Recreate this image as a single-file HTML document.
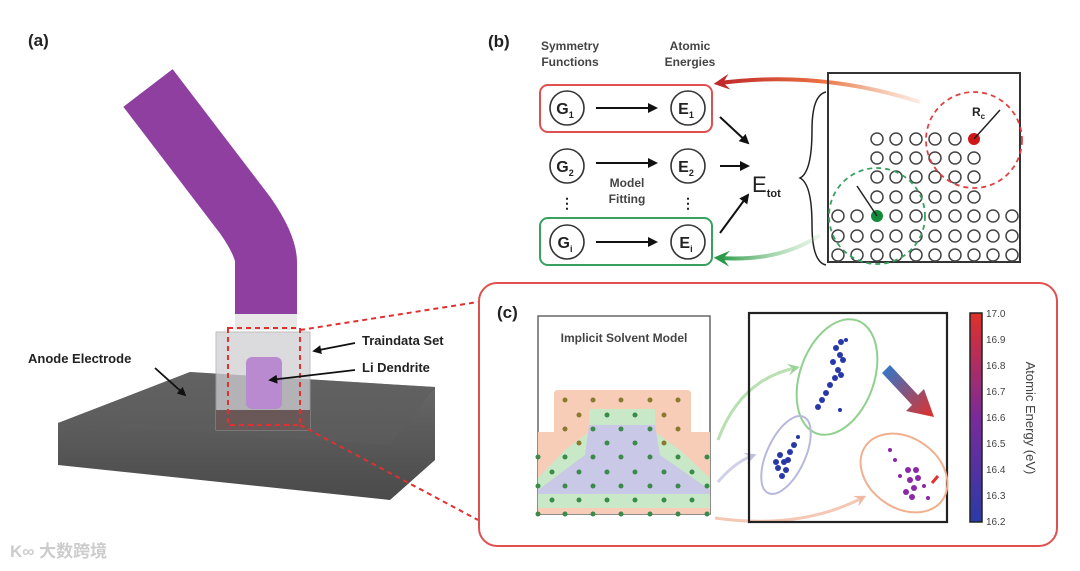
<!DOCTYPE html>
<html><head><meta charset="utf-8"><style>
html,body{margin:0;padding:0;background:#fff}
svg{display:block}
text{font-family:"Liberation Sans",Arial,sans-serif;font-weight:bold;fill:#222}
</style></head><body>
<svg width="1080" height="571" viewBox="0 0 1080 571" xmlns="http://www.w3.org/2000/svg">
<defs>
<marker id="ah" viewBox="0 0 10 10" refX="8" refY="5" markerWidth="5" markerHeight="5" orient="auto"><path d="M0,0L10,5L0,10z" fill="#111"/></marker>
<marker id="ahr" viewBox="0 0 10 10" refX="6" refY="5" markerWidth="4" markerHeight="4" orient="auto"><path d="M0,0L10,5L0,10L4,5z" fill="#c0282a"/></marker>
<marker id="ahg" viewBox="0 0 10 10" refX="6" refY="5" markerWidth="4" markerHeight="4" orient="auto"><path d="M0,0L10,5L0,10L4,5z" fill="#2a9a4a"/></marker>
<marker id="ahlg" viewBox="0 0 10 10" refX="6" refY="5" markerWidth="4" markerHeight="4" orient="auto"><path d="M0,0L10,5L0,10L4,5z" fill="#9ad29a"/></marker>
<marker id="ahlo" viewBox="0 0 10 10" refX="6" refY="5" markerWidth="4" markerHeight="4" orient="auto"><path d="M0,0L10,5L0,10L4,5z" fill="#f0b8a0"/></marker>
<marker id="ahlb" viewBox="0 0 10 10" refX="6" refY="5" markerWidth="4" markerHeight="4" orient="auto"><path d="M0,0L10,5L0,10L4,5z" fill="#c0c0e0"/></marker>
<linearGradient id="slab" x1="0" y1="0" x2="0" y2="1"><stop offset="0" stop-color="#6a6a6a"/><stop offset="1" stop-color="#4a4a4a"/></linearGradient>
<linearGradient id="cb" x1="0" y1="1" x2="0" y2="0"><stop offset="0" stop-color="#2a3aa8"/><stop offset="0.5" stop-color="#7a2a9a"/><stop offset="1" stop-color="#e0302a"/></linearGradient>
<linearGradient id="bigar" x1="0" y1="0" x2="1" y2="1"><stop offset="0" stop-color="#2a7ad0"/><stop offset="1" stop-color="#e0302a"/></linearGradient>
<linearGradient id="redc" x1="1" y1="0" x2="0" y2="0"><stop offset="0" stop-color="#f0a070" stop-opacity="0.2"/><stop offset="0.5" stop-color="#e87040"/><stop offset="1" stop-color="#c0282a"/></linearGradient>
<linearGradient id="grc" x1="1" y1="0" x2="0" y2="0"><stop offset="0" stop-color="#9ad29a" stop-opacity="0.2"/><stop offset="1" stop-color="#2a9a4a"/></linearGradient>
</defs>

<!-- Panel a -->
<text x="28" y="46" font-size="17">(a)</text>
<polygon points="58,423 190,372 435,387 435,460 390,500 58,465" fill="url(#slab)"/>
<polygon points="58,423 190,372 435,387 390,445 " fill="#5e5e5e" opacity="0.6"/>
<path d="M148,88 L245,215 Q266,245 266,262 L266,314" stroke="#8e3fa0" stroke-width="62" fill="none"/>
<rect x="235" y="314" width="62" height="16" fill="#ddd" opacity="0.7"/>
<rect x="216" y="332" width="94" height="98" fill="#cfcfd4" opacity="0.75" stroke="#aaa"/>
<rect x="216" y="410" width="94" height="20" fill="#6a5858"/>
<rect x="246" y="357" width="36" height="52" rx="6" fill="#b98ad0"/>
<rect x="228" y="328" width="72" height="97" fill="none" stroke="#e03030" stroke-width="2" stroke-dasharray="5,4"/>
<line x1="300" y1="330" x2="478" y2="302" stroke="#e03030" stroke-width="2" stroke-dasharray="5,4"/>
<line x1="300" y1="425" x2="478" y2="520" stroke="#e03030" stroke-width="2" stroke-dasharray="5,4"/>
<text x="28" y="363" font-size="13">Anode Electrode</text>
<line x1="155" y1="368" x2="185" y2="395" stroke="#111" stroke-width="1.8" marker-end="url(#ah)"/>
<text x="362" y="345" font-size="13">Traindata Set</text>
<line x1="355" y1="343" x2="314" y2="351" stroke="#111" stroke-width="1.8" marker-end="url(#ah)"/>
<text x="362" y="372" font-size="13">Li Dendrite</text>
<line x1="355" y1="370" x2="270" y2="380" stroke="#111" stroke-width="1.8" marker-end="url(#ah)"/>
<text x="10" y="557" font-size="17" style="fill:#ccc;font-family:'Liberation Sans','Noto Sans CJK SC',sans-serif">K∞ 大数跨境</text>

<!-- Panel b -->
<text x="488" y="47" font-size="17">(b)</text>
<text x="570" y="50" font-size="12" text-anchor="middle" style="fill:#444">Symmetry</text>
<text x="570" y="66" font-size="12" text-anchor="middle" style="fill:#444">Functions</text>
<text x="690" y="50" font-size="12" text-anchor="middle" style="fill:#444">Atomic</text>
<text x="690" y="66" font-size="12" text-anchor="middle" style="fill:#444">Energies</text>
<rect x="540" y="85" width="172" height="47" rx="8" fill="none" stroke="#e05050" stroke-width="2"/>
<rect x="540" y="218" width="172" height="47" rx="8" fill="none" stroke="#3aa060" stroke-width="2"/>
<g fill="none" stroke="#333" stroke-width="1.6">
<circle cx="567" cy="108" r="17"/><circle cx="688" cy="108" r="17"/>
<circle cx="567" cy="166" r="17"/><circle cx="688" cy="166" r="17"/>
<circle cx="567" cy="242" r="17"/><circle cx="688" cy="242" r="17"/>
</g>
<g font-size="16" text-anchor="middle">
<text x="565" y="114">G<tspan font-size="9" dy="4">1</tspan></text>
<text x="686" y="114">E<tspan font-size="9" dy="4">1</tspan></text>
<text x="565" y="172">G<tspan font-size="9" dy="4">2</tspan></text>
<text x="686" y="172">E<tspan font-size="9" dy="4">2</tspan></text>
<text x="565" y="248">G<tspan font-size="9" dy="4">i</tspan></text>
<text x="686" y="248">E<tspan font-size="9" dy="4">i</tspan></text>
</g>
<g stroke="#111" stroke-width="2" marker-end="url(#ah)">
<line x1="596" y1="108" x2="656" y2="108"/><line x1="596" y1="163" x2="656" y2="163"/><line x1="596" y1="242" x2="656" y2="242"/>
<line x1="720" y1="117" x2="748" y2="143"/><line x1="720" y1="166" x2="748" y2="166"/><line x1="720" y1="233" x2="748" y2="195"/>
</g>
<text x="567" y="208" font-size="14" text-anchor="middle">⋮</text>
<text x="688" y="208" font-size="14" text-anchor="middle">⋮</text>
<text x="627" y="187" font-size="12" text-anchor="middle" style="fill:#444">Model</text>
<text x="627" y="203" font-size="12" text-anchor="middle" style="fill:#444">Fitting</text>
<text x="752" y="192" font-size="22" style="font-weight:normal">E<tspan font-size="11" dy="5" font-weight="bold">tot</tspan></text>
<path d="M826,92 Q812,95 812,130 Q812,172 800,178 Q812,184 812,225 Q812,262 826,265" fill="none" stroke="#222" stroke-width="1.5"/>
<path d="M920,102 Q820,70 720,83" fill="none" stroke="url(#redc)" stroke-width="4" marker-end="url(#ahr)"/>
<path d="M820,235 Q780,262 720,258" fill="none" stroke="url(#grc)" stroke-width="4" marker-end="url(#ahg)"/>
<rect x="828" y="73" width="192" height="189" fill="none" stroke="#333" stroke-width="2"/>
<g fill="none" stroke="#444" stroke-width="1.5">
<circle cx="877" cy="139" r="6"/><circle cx="896" cy="139" r="6"/><circle cx="916" cy="139" r="6"/><circle cx="935" cy="139" r="6"/><circle cx="955" cy="139" r="6"/>
<circle cx="877" cy="158" r="6"/><circle cx="896" cy="158" r="6"/><circle cx="916" cy="158" r="6"/><circle cx="935" cy="158" r="6"/><circle cx="955" cy="158" r="6"/><circle cx="974" cy="158" r="6"/>
<circle cx="877" cy="177" r="6"/><circle cx="896" cy="177" r="6"/><circle cx="916" cy="177" r="6"/><circle cx="935" cy="177" r="6"/><circle cx="955" cy="177" r="6"/><circle cx="974" cy="177" r="6"/>
<circle cx="877" cy="197" r="6"/><circle cx="896" cy="197" r="6"/><circle cx="916" cy="197" r="6"/><circle cx="935" cy="197" r="6"/><circle cx="955" cy="197" r="6"/><circle cx="974" cy="197" r="6"/>
</g>
<g fill="none" stroke="#444" stroke-width="1.5" id="rows">
<circle cx="838" cy="216" r="6"/><circle cx="857" cy="216" r="6"/><circle cx="896" cy="216" r="6"/><circle cx="916" cy="216" r="6"/><circle cx="935" cy="216" r="6"/><circle cx="955" cy="216" r="6"/><circle cx="974" cy="216" r="6"/><circle cx="993" cy="216" r="6"/><circle cx="1012" cy="216" r="6"/>
<circle cx="838" cy="236" r="6"/><circle cx="857" cy="236" r="6"/><circle cx="877" cy="236" r="6"/><circle cx="896" cy="236" r="6"/><circle cx="916" cy="236" r="6"/><circle cx="935" cy="236" r="6"/><circle cx="955" cy="236" r="6"/><circle cx="974" cy="236" r="6"/><circle cx="993" cy="236" r="6"/><circle cx="1012" cy="236" r="6"/>
<circle cx="838" cy="255" r="6"/><circle cx="857" cy="255" r="6"/><circle cx="877" cy="255" r="6"/><circle cx="896" cy="255" r="6"/><circle cx="916" cy="255" r="6"/><circle cx="935" cy="255" r="6"/><circle cx="955" cy="255" r="6"/><circle cx="974" cy="255" r="6"/><circle cx="993" cy="255" r="6"/><circle cx="1012" cy="255" r="6"/>
</g>
<circle cx="974" cy="139" r="6" fill="#d01818"/>
<circle cx="877" cy="216" r="6" fill="#118a3a"/>
<circle cx="974" cy="140" r="48" fill="none" stroke="#e04040" stroke-width="1.8" stroke-dasharray="5,4"/>
<circle cx="877" cy="216" r="48" fill="none" stroke="#3aa060" stroke-width="1.8" stroke-dasharray="5,4"/>
<line x1="974" y1="139" x2="1000" y2="110" stroke="#222" stroke-width="1.5"/>
<line x1="877" y1="216" x2="857" y2="186" stroke="#222" stroke-width="1.5"/>
<text x="972" y="116" font-size="12">R<tspan font-size="8" dy="3">c</tspan></text>

<!-- Panel c -->
<rect x="479" y="283" width="578" height="263" rx="18" fill="none" stroke="#e05050" stroke-width="2"/>
<text x="497" y="318" font-size="17">(c)</text>
<rect x="538" y="316" width="172" height="198" fill="none" stroke="#666" stroke-width="1.5"/>
<text x="624" y="342" font-size="12" text-anchor="middle" style="fill:#444">Implicit Solvent Model</text>
<path d="M554,394 Q554,390 558,390 L687,390 Q691,390 691,394 L691,432 L710,432 L710,514 L538,514 L538,432 L554,432 Z" fill="#f7cdb8"/>
<polygon points="589,409 655,409 655,432 680,450 710,478 710,508 538,508 538,478 565,450 589,432" fill="#c9e8c8"/>
<polygon points="589,425 655,425 660,455 710,490 710,494 538,494 538,490 585,455" fill="#c9c8e6"/>
<g id="dots"></g>
<g fill="#3a8a4a">
<circle cx="565" cy="400" r="2.5" fill="#8a7a30"/><circle cx="593" cy="400" r="2.5" fill="#8a7a30"/><circle cx="621" cy="400" r="2.5" fill="#8a7a30"/><circle cx="650" cy="400" r="2.5" fill="#8a7a30"/><circle cx="678" cy="400" r="2.5" fill="#8a7a30"/>
<circle cx="579" cy="415" r="2.5" fill="#8a7a30"/><circle cx="607" cy="415" r="2.5"/><circle cx="635" cy="415" r="2.5"/><circle cx="664" cy="415" r="2.5" fill="#8a7a30"/>
<circle cx="565" cy="429" r="2.5" fill="#8a7a30"/><circle cx="593" cy="429" r="2.5"/><circle cx="621" cy="429" r="2.5"/><circle cx="650" cy="429" r="2.5"/><circle cx="678" cy="429" r="2.5" fill="#8a7a30"/>
<circle cx="579" cy="443" r="2.5" fill="#8a7a30"/><circle cx="607" cy="443" r="2.5"/><circle cx="635" cy="443" r="2.5"/><circle cx="664" cy="443" r="2.5" fill="#8a7a30"/>
<circle cx="538" cy="457" r="2.5"/><circle cx="565" cy="457" r="2.5"/><circle cx="593" cy="457" r="2.5"/><circle cx="621" cy="457" r="2.5"/><circle cx="650" cy="457" r="2.5"/><circle cx="678" cy="457" r="2.5"/><circle cx="707" cy="457" r="2.5"/>
<circle cx="552" cy="472" r="2.5"/><circle cx="579" cy="472" r="2.5"/><circle cx="607" cy="472" r="2.5"/><circle cx="635" cy="472" r="2.5"/><circle cx="664" cy="472" r="2.5"/><circle cx="692" cy="472" r="2.5"/>
<circle cx="538" cy="486" r="2.5"/><circle cx="565" cy="486" r="2.5"/><circle cx="593" cy="486" r="2.5"/><circle cx="621" cy="486" r="2.5"/><circle cx="650" cy="486" r="2.5"/><circle cx="678" cy="486" r="2.5"/><circle cx="707" cy="486" r="2.5"/>
<circle cx="552" cy="500" r="2.5"/><circle cx="579" cy="500" r="2.5"/><circle cx="607" cy="500" r="2.5"/><circle cx="635" cy="500" r="2.5"/><circle cx="664" cy="500" r="2.5"/><circle cx="692" cy="500" r="2.5"/>
<circle cx="538" cy="514" r="2.5"/><circle cx="565" cy="514" r="2.5"/><circle cx="593" cy="514" r="2.5"/><circle cx="621" cy="514" r="2.5"/><circle cx="650" cy="514" r="2.5"/><circle cx="678" cy="514" r="2.5"/><circle cx="707" cy="514" r="2.5"/>
</g>
<path d="M718,440 Q740,380 795,368" fill="none" stroke="#b8e0b0" stroke-width="3" marker-end="url(#ahlg)"/>
<path d="M718,482 Q735,462 752,456" fill="none" stroke="#d0d0ea" stroke-width="3" marker-end="url(#ahlb)"/>
<path d="M715,518 Q800,530 862,498" fill="none" stroke="#f5c8b5" stroke-width="3" marker-end="url(#ahlo)"/>
<rect x="749" y="313" width="198" height="209" fill="none" stroke="#222" stroke-width="2.2"/>
<ellipse cx="837" cy="377" rx="37" ry="60" transform="rotate(20 837 377)" fill="none" stroke="#8fd08f" stroke-width="2"/>
<ellipse cx="786" cy="455" rx="19" ry="42" transform="rotate(25 786 455)" fill="none" stroke="#b8b8dc" stroke-width="2"/>
<ellipse cx="904" cy="473" rx="47" ry="35" transform="rotate(35 904 473)" fill="none" stroke="#f0b090" stroke-width="2"/>
<g fill="#2838a8">
<circle cx="836" cy="348" r="3"/><circle cx="840" cy="355" r="3"/><circle cx="833" cy="362" r="3"/><circle cx="838" cy="370" r="3"/><circle cx="843" cy="360" r="3"/><circle cx="835" cy="378" r="3"/><circle cx="830" cy="385" r="3"/><circle cx="826" cy="393" r="3"/><circle cx="822" cy="400" r="3"/><circle cx="818" cy="407" r="3"/><circle cx="841" cy="342" r="3"/><circle cx="841" cy="375" r="3"/><circle cx="846" cy="340" r="2"/><circle cx="840" cy="410" r="2"/>
<circle cx="780" cy="455" r="3"/><circle cx="784" cy="462" r="3"/><circle cx="778" cy="468" r="3"/><circle cx="786" cy="470" r="3"/><circle cx="782" cy="476" r="3"/><circle cx="790" cy="452" r="3"/><circle cx="794" cy="445" r="3"/><circle cx="798" cy="437" r="2"/><circle cx="776" cy="462" r="3"/><circle cx="788" cy="460" r="3"/>
</g>
<g fill="#8a28a8">
<circle cx="910" cy="480" r="3"/><circle cx="914" cy="488" r="3"/><circle cx="906" cy="492" r="3"/><circle cx="912" cy="497" r="3"/><circle cx="918" cy="478" r="3"/><circle cx="908" cy="470" r="3"/><circle cx="916" cy="470" r="3"/><circle cx="895" cy="460" r="2"/><circle cx="890" cy="450" r="2"/><circle cx="900" cy="476" r="2"/><circle cx="924" cy="486" r="2"/><circle cx="928" cy="498" r="2"/>
</g>
<line x1="932" y1="483" x2="938" y2="476" stroke="#e03030" stroke-width="3"/>
<polygon points="882,373 890,365 918,395 924,389 934,417 906,411 912,405" fill="url(#bigar)"/>
<rect x="970" y="313" width="12" height="209" fill="url(#cb)" stroke="#222" stroke-width="1.5"/>
<g font-size="10" style="font-weight:normal;fill:#444">
<text x="986" y="317" style="fill:#444;font-weight:normal">17.0</text>
<text x="986" y="343" style="fill:#444;font-weight:normal">16.9</text>
<text x="986" y="369" style="fill:#444;font-weight:normal">16.8</text>
<text x="986" y="395" style="fill:#444;font-weight:normal">16.7</text>
<text x="986" y="421" style="fill:#444;font-weight:normal">16.6</text>
<text x="986" y="447" style="fill:#444;font-weight:normal">16.5</text>
<text x="986" y="473" style="fill:#444;font-weight:normal">16.4</text>
<text x="986" y="499" style="fill:#444;font-weight:normal">16.3</text>
<text x="986" y="525" style="fill:#444;font-weight:normal">16.2</text>
</g>
<text x="1026" y="418" font-size="13" text-anchor="middle" transform="rotate(90 1026 418)" style="font-weight:normal;fill:#444">Atomic Energy (eV)</text>
</svg>
</body></html>
